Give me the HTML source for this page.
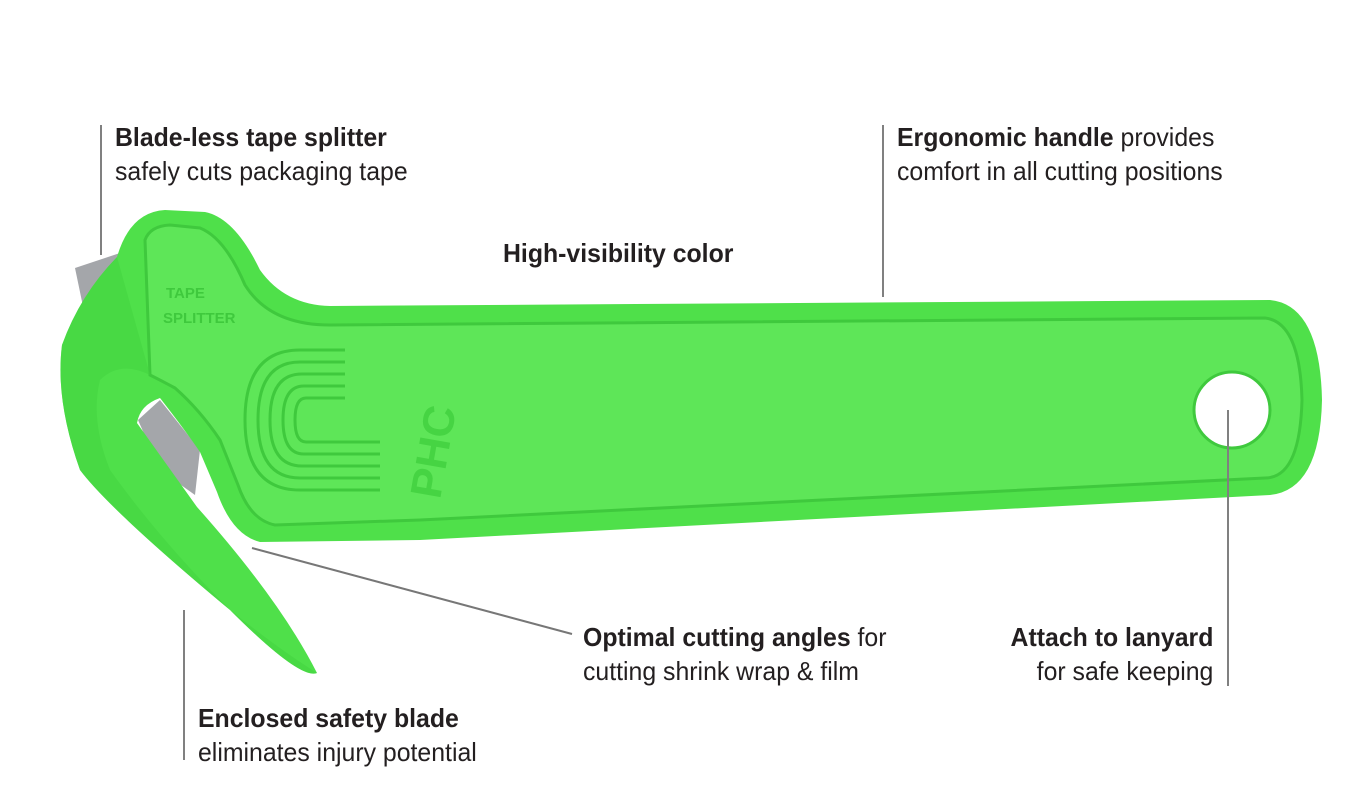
<!DOCTYPE html>
<html><head><meta charset="utf-8"><style>
html,body{margin:0;padding:0;background:#fff}
body{width:1366px;height:800px;position:relative;overflow:hidden;font-family:"Liberation Sans Narrow","Liberation Sans",sans-serif;color:#231f20}
.t{position:absolute;font-size:26px;line-height:34px;white-space:nowrap;letter-spacing:0;transform:scaleX(0.955);transform-origin:left top}
.r{transform-origin:right top}
b{font-weight:bold}
.l{position:absolute;background:#808080}
</style></head><body>
<svg width="1366" height="800" style="position:absolute;left:0;top:0">
<line x1="252" y1="548" x2="572" y2="634" stroke="#777" stroke-width="2"/>
<polygon points="75,268 123,252 130,320 90,340" fill="#a4a6aa"/>
<polygon points="138,420 160,400 200,450 195,495 160,470" fill="#a4a6aa"/>
<path d="M117,257 Q130,212 165,210 L205,212 Q235,218 260,270 Q285,305 330,306 L1270,300 Q1320,305 1322,400 Q1320,490 1270,495 L420,540 L260,542 Q232,535 217,492 L200,452 Q185,430 160,398 Q140,405 137,423 L197,507 Q280,600 317,673 Q300,680 230,610 Q110,510 80,470 Q55,400 62,345 Q80,295 117,257 Z" fill="#4fe04a"/>
<path d="M145,240 Q150,226 170,225 L200,228 Q225,238 245,285 Q270,325 330,325 L1265,318 Q1300,322 1302,400 Q1300,478 1265,478 L420,520 L275,525 Q250,520 238,485 L220,440 Q200,410 175,388 Q160,380 150,375 Z" fill="#5ee658" stroke="#3fc93d" stroke-width="3"/>
<circle cx="1232" cy="410" r="38" fill="#fff" stroke="#3fc93d" stroke-width="3"/>
<path d="M62,345 Q80,295 117,257 L150,375 Q120,360 100,380 Q90,420 110,470 Q160,540 230,610 Q280,650 317,673 Q300,680 230,610 Q110,510 80,470 Q55,400 62,345Z" fill="#44d441" opacity=".6"/>
<g fill="none" stroke="#3fc93d" stroke-width="3">
<path d="M345,350 L300,350 Q245,350 245,420 Q245,490 300,490 L380,490"/>
<path d="M345,362 L300,362 Q258,362 258,420 Q258,478 300,478 L380,478"/>
<path d="M345,374 L302,374 Q270,374 270,420 Q270,466 302,466 L380,466"/>
<path d="M345,386 L304,386 Q283,386 283,420 Q283,454 304,454 L380,454"/>
<path d="M345,398 L306,398 Q295,398 295,420 Q295,442 306,442 L380,442"/>
</g>
<text x="166" y="298" font-family="Liberation Sans Narrow,Liberation Sans,sans-serif" font-weight="bold" font-size="15" fill="#3fc93d">TAPE</text>
<text x="163" y="323" font-family="Liberation Sans Narrow,Liberation Sans,sans-serif" font-weight="bold" font-size="15" fill="#3fc93d">SPLITTER</text>
<text x="0" y="0" transform="translate(440,500) rotate(-80)" font-family="Liberation Sans,sans-serif" font-weight="bold" font-size="44" fill="#46d443">PHC</text>
</svg>
<div class="l" style="left:100px;top:125px;width:2px;height:130px"></div>
<div class="l" style="left:882px;top:125px;width:2px;height:172px"></div>
<div class="l" style="left:1227px;top:410px;width:2px;height:276px"></div>
<div class="l" style="left:183px;top:610px;width:2px;height:150px"></div>
<div class="t" style="left:115px;top:120px"><b>Blade-less tape splitter</b><br>safely cuts packaging tape</div>
<div class="t" style="left:897px;top:120px"><b>Ergonomic handle</b> provides<br>comfort in all cutting positions</div>
<div class="t" style="left:503px;top:236px"><b>High-visibility color</b></div>
<div class="t" style="left:583px;top:620px"><b>Optimal cutting angles</b> for<br>cutting shrink wrap &amp; film</div>
<div class="t r" style="right:153px;top:620px;text-align:right"><b>Attach to lanyard</b><br>for safe keeping</div>
<div class="t" style="left:198px;top:701px"><b>Enclosed safety blade</b><br>eliminates injury potential</div>
</body></html>
